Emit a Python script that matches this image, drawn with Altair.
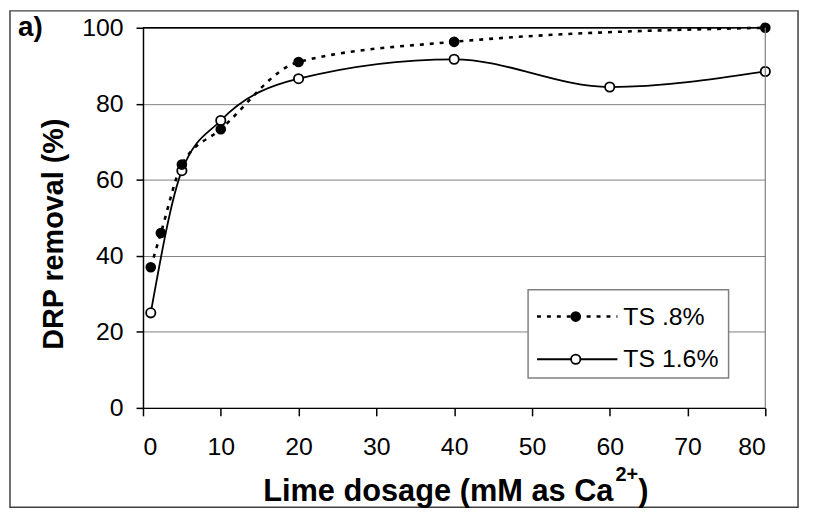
import altair as alt
import pandas as pd

# ---- data ----
dose_08 = [1, 2.3, 5, 10, 20, 40, 80]
drp_08 = [37, 46, 64, 73.3, 91, 96.3, 100]
dose_16 = [1, 5, 10, 20, 40, 60, 80]
drp_16 = [25, 62.4, 75.6, 86.6, 91.7, 84.4, 88.5]
series_names = ["TS .8%", "TS 1.6%"]
x_ticks = [0, 10, 20, 30, 40, 50, 60, 70, 80]
y_ticks = [0, 20, 40, 60, 80, 100]

df08 = pd.DataFrame({"dose": dose_08, "drp": drp_08})
df16 = pd.DataFrame({"dose": dose_16, "drp": drp_16})
one = pd.DataFrame({"k": [0]})

W, H = 627, 383
FONT = "Liberation Sans"

xenc = alt.X("dose:Q",
             scale=alt.Scale(domain=[0, 80], nice=False, zero=True),
             axis=alt.Axis(values=x_ticks, title=None, grid=False, tickSize=8,
                           labelPadding=19, format="d"))
yenc = alt.Y("drp:Q",
             scale=alt.Scale(domain=[0, 100], nice=False),
             axis=alt.Axis(values=y_ticks, title=None, grid=True, gridColor="#808080",
                           gridWidth=1, tickSize=7, labelPadding=13, format="d"))

line08 = alt.Chart(df08).mark_line(interpolate="monotone", color="black",
                                   strokeWidth=2.6, strokeDash=[4, 6]).encode(x=xenc, y=yenc)
line16 = alt.Chart(df16).mark_line(interpolate="monotone", color="black",
                                   strokeWidth=1.8).encode(x=xenc, y=yenc)
pts08 = alt.Chart(df08).mark_point(shape="circle", filled=True, color="black",
                                   opacity=1, size=115).encode(x=xenc, y=yenc)
pts16 = alt.Chart(df16).mark_point(shape="circle", filled=True, fill="white",
                                   stroke="black", strokeWidth=1.8, opacity=1,
                                   size=88).encode(x=xenc, y=yenc)

base = alt.Chart(one)

top_rule = base.mark_rule(color="black", strokeWidth=1.5).encode(
    x=alt.value(0), x2=alt.value(W), y=alt.value(0))
right_rule = base.mark_rule(color="#808080", strokeWidth=1.2).encode(
    x=alt.value(W), y=alt.value(0), y2=alt.value(H))

outer = base.mark_rect(fillOpacity=0, stroke="#404040", strokeWidth=1.5).encode(
    x=alt.value(-134), x2=alt.value(660), y=alt.value(-17), y2=alt.value(483))

# legend
leg_box = base.mark_rect(fill="white", stroke="#808080", strokeWidth=1.5).encode(
    x=alt.value(388), x2=alt.value(590), y=alt.value(264), y2=alt.value(353))
leg_l1 = base.mark_rule(color="black", strokeWidth=2.6, strokeDash=[4, 6]).encode(
    x=alt.value(397), x2=alt.value(478), y=alt.value(291))
leg_p1 = base.mark_point(shape="circle", filled=True, color="black", opacity=1,
                         size=115).encode(x=alt.value(436), y=alt.value(291))
leg_t1 = base.mark_text(align="left", baseline="middle", font=FONT, fontSize=25,
                        color="black").encode(x=alt.value(484), y=alt.value(291),
                                              text=alt.value(series_names[0]))
leg_l2 = base.mark_rule(color="black", strokeWidth=1.8).encode(
    x=alt.value(397), x2=alt.value(478), y=alt.value(334))
leg_p2 = base.mark_point(shape="circle", filled=True, fill="white", stroke="black",
                         strokeWidth=1.8, opacity=1, size=88).encode(
    x=alt.value(436), y=alt.value(334))
leg_t2 = base.mark_text(align="left", baseline="middle", font=FONT, fontSize=25,
                        color="black").encode(x=alt.value(484), y=alt.value(334),
                                              text=alt.value(series_names[1]))

# titles
ytitle = base.mark_text(angle=270, align="center", baseline="alphabetic", font=FONT,
                        fontSize=29, fontWeight="bold", color="black").encode(
    x=alt.value(-81), y=alt.value(208), text=alt.value("DRP removal (%)"))
xtitle = base.mark_text(align="right", baseline="alphabetic", font=FONT, fontSize=31,
                        fontWeight="bold", color="black").encode(
    x=alt.value(474), y=alt.value(477), text=alt.value("Lime dosage (mM as Ca"))
xsup = base.mark_text(align="left", baseline="alphabetic", font=FONT, fontSize=20,
                      fontWeight="bold", color="black").encode(
    x=alt.value(476), y=alt.value(457), text=alt.value("2+"))
xclose = base.mark_text(align="left", baseline="alphabetic", font=FONT, fontSize=31,
                        fontWeight="bold", color="black").encode(
    x=alt.value(499), y=alt.value(477), text=alt.value(")"))
panel = base.mark_text(align="left", baseline="alphabetic", font=FONT, fontSize=28,
                       fontWeight="bold", color="black").encode(
    x=alt.value(-126), y=alt.value(8), text=alt.value("a)"))

chart = alt.layer(
    line16, line08, pts16, pts08, top_rule, right_rule, outer,
    leg_box, leg_l1, leg_p1, leg_t1, leg_l2, leg_p2, leg_t2,
    ytitle, xtitle, xsup, xclose, panel,
).properties(
    width=W, height=H,
    autosize=alt.AutoSizeParams(type="none"),
    padding={"left": 136, "top": 18, "right": 40, "bottom": 102},
    background="white",
).configure_axis(
    domainColor="black", domainWidth=1.5, tickColor="black", tickWidth=1.5,
    labelFont=FONT, labelFontSize=25, labelColor="black",
).configure_view(strokeWidth=0)

chart.save("out.html", embed_options={"renderer": "svg", "actions": False})
